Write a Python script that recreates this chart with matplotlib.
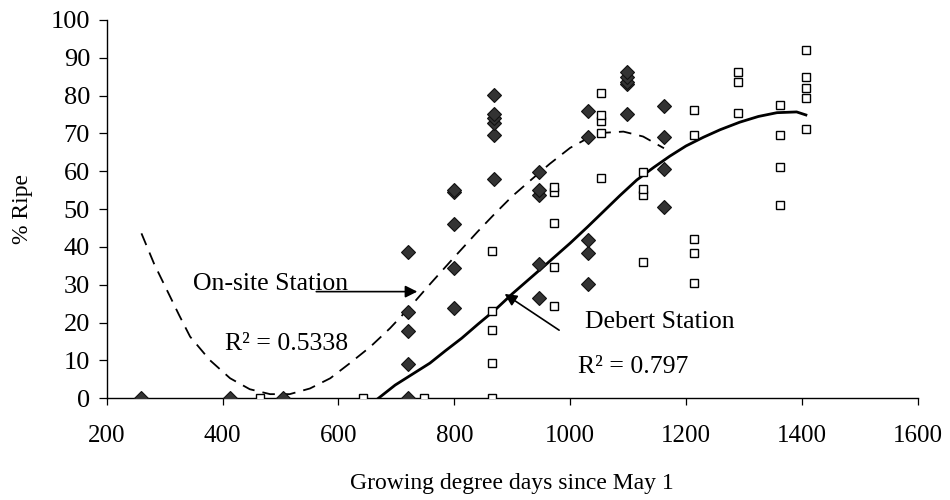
import matplotlib
matplotlib.use("Agg")
import matplotlib.pyplot as plt

plt.rcParams['font.family'] = ['Liberation Serif', 'DejaVu Serif']

# On-site station observations (filled diamonds)
onsite_x = [260, 413, 505,
            720, 720, 720, 720, 720,
            800, 800, 800, 800, 800,
            868, 868, 868, 868, 868, 868,
            947, 947, 947, 947, 947,
            1031, 1031, 1031, 1031, 1031,
            1098, 1098, 1098, 1098, 1098,
            1162, 1162, 1162, 1162]
onsite_y = [0, 0, 0,
            0, 9.0, 17.9, 22.9, 38.6,
            24.0, 34.4, 46.1, 54.5, 55.1,
            58.0, 69.6, 72.7, 74.0, 75.1, 80.2,
            26.4, 35.5, 53.7, 55.1, 59.7,
            30.1, 38.3, 41.8, 69.2, 76.0,
            75.2, 83.0, 83.7, 85.0, 86.3,
            50.6, 60.6, 69.2, 77.3]

# Debert station observations (open squares)
debert_x = [465, 643, 748,
            865, 865, 865, 865, 865,
            973, 973, 973, 973, 973,
            1053, 1053, 1053, 1053, 1053,
            1125, 1125, 1125, 1125,
            1213, 1213, 1213, 1213, 1213,
            1290, 1290, 1290,
            1362, 1362, 1362, 1362,
            1407, 1407, 1407, 1407, 1407]
debert_y = [0, 0, 0,
            0, 9.2, 18.1, 23.1, 38.9,
            24.4, 34.8, 46.4, 54.6, 55.9,
            58.3, 70.0, 73.3, 74.9, 80.6,
            35.9, 53.7, 55.3, 59.9,
            30.4, 38.5, 42.0, 69.6, 76.2,
            75.5, 83.5, 86.3,
            51.1, 61.2, 69.6, 77.5,
            71.1, 79.3, 82.1, 85.0, 92.1]

# trendlines
onsite_fit_x = [260, 282, 304, 325, 344, 378, 413, 447, 482, 516, 551, 586, 620,
                655, 689, 724, 760, 800, 840, 870, 900, 930, 965, 1000, 1031,
                1060, 1092, 1126, 1162]
onsite_fit_y = [43.6, 35.5, 28.6, 22.0, 16.3, 10.1, 5.3, 2.4, 1.1, 1.1, 2.6, 5.3, 9.3,
                13.6, 18.5, 24.2, 30.5, 37.3, 44.0, 48.8, 53.4, 57.4, 62.0, 66.2, 68.8,
                70.2, 70.5, 69.2, 66.1]
debert_fit_x = [669, 698, 728, 758, 785, 813, 841, 870, 900, 930, 960, 1000, 1030,
                1057, 1086, 1115, 1144, 1172, 1200, 1230, 1259, 1293, 1325, 1357,
                1391, 1407]
debert_fit_y = [0.0, 3.5, 6.4, 9.3, 12.6, 15.9, 19.6, 23.3, 27.6, 31.6, 35.6, 41.0, 45.3,
                49.3, 53.6, 57.7, 61.0, 64.0, 66.7, 69.0, 71.0, 73.0, 74.5, 75.5,
                75.7, 74.9]

fig = plt.figure(figsize=(9.5, 5), dpi=100)
ax = fig.add_axes([0.1123, 0.2034, 0.8537, 0.7566])

ax.plot(onsite_fit_x, onsite_fit_y, color='black', lw=1.3, ls=(0, (7, 4.5)), zorder=2)
ax.plot(debert_fit_x, debert_fit_y, color='black', lw=2.0, zorder=2)

ax.plot(onsite_x, onsite_y, ls='none', marker='D', ms=6.8, mfc='#333333',
        mec='#111111', mew=0.8, zorder=3)
ax.plot(debert_x, debert_y, ls='none', marker='s', ms=5.8, mfc='white',
        mec='black', mew=1.0, zorder=3)

# annotations
ax.text(349, 28.6, 'On-site Station', fontsize=18.5, ha='left', va='baseline')
ax.annotate('', xy=(741, 28.2), xytext=(557, 28.2),
            arrowprops=dict(arrowstyle='-|>', color='black', lw=1.2, mutation_scale=18))
ax.text(404, 12.8, 'R² = 0.5338', fontsize=18.5, ha='left', va='baseline')

ax.text(1026, 18.5, 'Debert Station', fontsize=18.5, ha='left', va='baseline')
ax.annotate('', xy=(883, 28.0), xytext=(985, 17.6),
            arrowprops=dict(arrowstyle='-|>', color='black', lw=1.2, mutation_scale=18))
ax.text(1014, 6.6, 'R² = 0.797', fontsize=18.5, ha='left', va='baseline')

ax.set_xlim(200, 1600)
ax.set_ylim(0, 100)
ax.set_xticks(range(200, 1601, 200))
ax.set_yticks(range(0, 101, 10))
ax.tick_params(axis='both', direction='out', labelsize=18, width=0.9, color='black')
ax.tick_params(axis='x', length=5, pad=14)
ax.tick_params(axis='y', length=6, pad=6, labelsize=19)

for side in ['top', 'right']:
    ax.spines[side].set_visible(False)
for side in ['left', 'bottom']:
    ax.spines[side].set_linewidth(1.0)
    ax.spines[side].set_color('black')

ax.set_xlabel('Growing degree days since May 1', fontsize=17)
ax.set_ylabel('% Ripe', fontsize=17)
ax.xaxis.set_label_coords(0.5, -0.197)
ax.yaxis.set_label_coords(-0.091, 0.5)

fig.savefig('out.png', dpi=100)
